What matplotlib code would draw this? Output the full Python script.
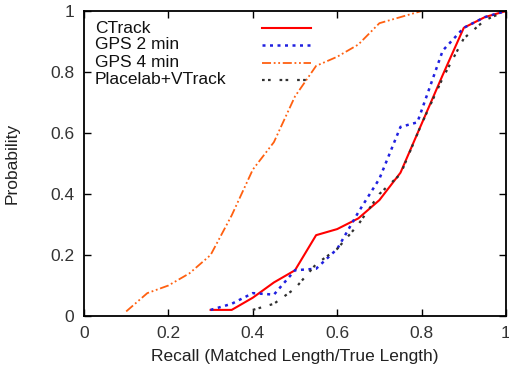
import matplotlib
matplotlib.use("Agg")
import matplotlib.pyplot as plt

plt.rcParams['font.family'] = ['Liberation Sans', 'DejaVu Sans']

# curve data
ctrack_x = [0.30, 0.35, 0.40, 0.45, 0.50, 0.55, 0.60, 0.65, 0.70, 0.75, 0.80, 0.85, 0.90, 0.95, 1.00]
ctrack_y = [0.02, 0.02, 0.06, 0.11, 0.15, 0.265, 0.285, 0.32, 0.38, 0.47, 0.63, 0.79, 0.945, 0.98, 1.00]

gps2_x = [0.30, 0.35, 0.40, 0.45, 0.50, 0.55, 0.60, 0.65, 0.70, 0.75, 0.79, 0.85, 0.90, 0.95, 1.00]
gps2_y = [0.02, 0.04, 0.075, 0.07, 0.15, 0.155, 0.22, 0.34, 0.45, 0.62, 0.635, 0.87, 0.945, 0.98, 1.00]

gps4_x = [0.10, 0.15, 0.20, 0.25, 0.30, 0.35, 0.40, 0.45, 0.50, 0.55, 0.60, 0.65, 0.70, 0.75, 0.80]
gps4_y = [0.015, 0.075, 0.10, 0.14, 0.20, 0.33, 0.48, 0.57, 0.72, 0.82, 0.85, 0.89, 0.96, 0.98, 1.00]

plv_x = [0.40, 0.45, 0.50, 0.55, 0.60, 0.65, 0.70, 0.75, 0.80, 0.85, 0.90, 0.95, 1.00]
plv_y = [0.02, 0.04, 0.09, 0.17, 0.22, 0.30, 0.40, 0.465, 0.63, 0.78, 0.91, 0.97, 1.00]

labels = ["CTrack", "GPS 2 min", "GPS 4 min", "Placelab+VTrack"]
colors = ["#ff0000", "#2020e0", "#ff6010", "#303030"]

fig = plt.figure(figsize=(5.1, 3.65), dpi=100)
ax = fig.add_axes([84/510, 49/365, 422/510, 305/365])

styles = [
    dict(linestyle='-', linewidth=1.5),
    dict(linestyle=(0, (1.2, 1.8)), linewidth=1.8),
    dict(linestyle=(0, (5, 1.5, 1, 1.5, 1, 1.5)), linewidth=1.3),
    dict(linestyle=(0, (1.2, 1.5, 1.2, 4)), linewidth=1.6),
]
series = [(ctrack_x, ctrack_y), (gps2_x, gps2_y), (gps4_x, gps4_y), (plv_x, plv_y)]

for (xs, ys), c, st in zip(series, colors, styles):
    ax.plot(xs, ys, color=c, **st)

# legend like gnuplot: text left, sample on the right
row_y = [0.944, 0.889, 0.830, 0.774]
for lab, c, st, yy in zip(labels, colors, styles, row_y):
    ax.text(0.026, yy, lab, transform=ax.transAxes, fontsize=12.5, va='center', ha='left',
            color='#111111')
    ax.plot([0.422, 0.538], [yy, yy], transform=ax.transAxes, color=c, **st)

ax.set_xlim(0, 1)
ax.set_ylim(0, 1)
ax.set_xticks([0, 0.2, 0.4, 0.6, 0.8, 1])
ax.set_xticklabels(["0", "0.2", "0.4", "0.6", "0.8", "1"])
ax.set_yticks([0, 0.2, 0.4, 0.6, 0.8, 1])
ax.set_yticklabels(["0", "0.2", "0.4", "0.6", "0.8", "1"])
ax.tick_params(direction='in', top=True, right=True, length=5, width=1,
               labelsize=12.5, labelcolor='#333333', pad=7)
for s in ax.spines.values():
    s.set_linewidth(1.3)

ax.set_xlabel("Recall (Matched Length/True Length)", fontsize=12.5, labelpad=6, color='#222222')
ax.set_ylabel("Probability", fontsize=12.5, labelpad=22, color='#222222')

fig.savefig("out.png", dpi=100)
